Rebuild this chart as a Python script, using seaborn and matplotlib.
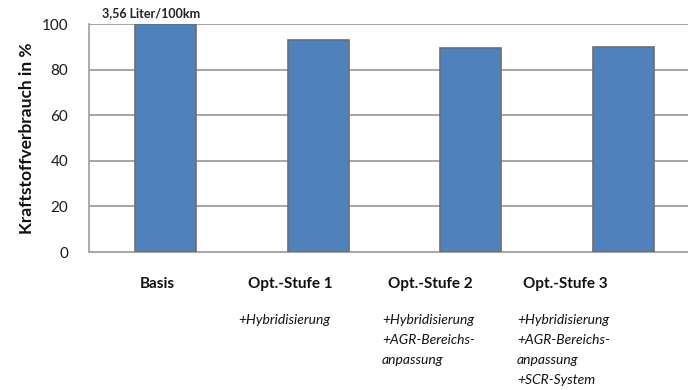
import matplotlib
matplotlib.use("Agg")
import matplotlib.pyplot as plt
import seaborn as sns
import pandas as pd

# Kraftstoffverbrauch relativ zur Basis (Basis = 3,56 Liter/100km)
stufen = ["Basis", "Opt.-Stufe 1", "Opt.-Stufe 2", "Opt.-Stufe 3"]
verbrauch = [100.0, 93.0, 89.6, 90.0]
massnahmen = [
    [],
    ["+Hybridisierung"],
    ["+Hybridisierung", "+AGR-Bereichs-", "anpassung"],
    ["+Hybridisierung", "+AGR-Bereichs-", "anpassung", "+SCR-System"],
]
basis_text = "3,56 Liter/100km"
yticks = [0, 20, 40, 60, 80, 100]

sns.set_theme(style="white")
plt.rcParams["font.family"] = ["Lato", "DejaVu Sans"]

W, H = 688, 390
fig = plt.figure(figsize=(W / 100, H / 100), dpi=100)
ax = fig.add_axes([89 / W, 1 - 252 / H, 611 / W, 228 / H])

df = pd.DataFrame({"stufe": stufen, "verbrauch": verbrauch})
sns.barplot(data=df, x="stufe", y="verbrauch", color="#4F81BD", saturation=1,
            width=0.4, edgecolor="#6E6E6E", linewidth=1.2, ax=ax, zorder=3)

ax.set_xlim(-0.5, 3.5)
ax.set_ylim(0, 100)
ax.set_yticks(yticks)
ax.set_yticklabels([str(t) for t in yticks], fontsize=11, color="#1a1a1a")
ax.tick_params(axis="y", length=0, pad=15)
ax.set_xticks([])
ax.set_xlabel("")
ax.set_ylabel("Kraftstoffverbrauch in %", fontsize=12.5, fontweight="bold",
              color="#111111", labelpad=5)
ax.grid(axis="y", color="#9E9E9E", linewidth=1.3, zorder=0)
for side in ["top", "right"]:
    ax.spines[side].set_visible(False)
ax.spines["left"].set_color("#9E9E9E")
ax.spines["left"].set_linewidth(1.2)
ax.spines["bottom"].set_color("#A8A8A8")
ax.spines["bottom"].set_linewidth(1.5)

# Hinweis über dem Basis-Balken
fig.text(151 / W, 1 - 13 / H, basis_text, fontsize=9, fontweight="bold",
         ha="center", va="center", color="#222222")

# Kategorienbeschriftung und Maßnahmen
label_x = [157, 290, 430, 565]
text_left = [None, 238, 382, 517]
for i, name in enumerate(stufen):
    fig.text(label_x[i] / W, 1 - 284 / H, name, fontsize=11, fontweight="bold",
             ha="center", va="center", color="#111111")
    for j, line in enumerate(massnahmen[i]):
        fig.text(text_left[i] / W, 1 - (320 + 20 * j) / H, line, fontsize=10,
                 fontstyle="italic", ha="left", va="center", color="#111111")

fig.savefig("out.png", dpi=100)
